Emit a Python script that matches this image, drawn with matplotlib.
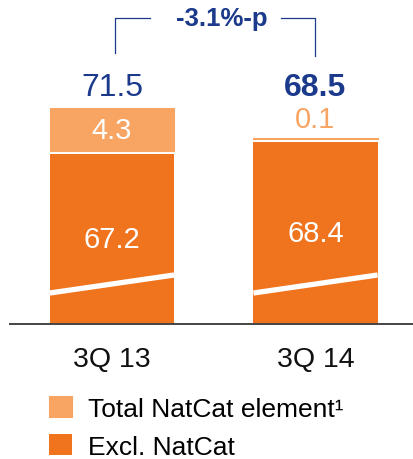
import matplotlib
matplotlib.use("Agg")
import matplotlib.pyplot as plt
import matplotlib.transforms as mtransforms
import numpy as np

plt.rcParams['font.family'] = ['Liberation Sans', 'DejaVu Sans']

# Combined ratio components (%)
quarters = ["3Q 13", "3Q 14"]
excl_natcat = [67.2, 68.4]
natcat = [4.3, 0.1]
totals = [71.5, 68.5]
change_label = "-3.1%-p"
legend_labels = ["Total NatCat element\u00b9", "Excl. NatCat"]

DARK = "#F0731E"
LIGHT = "#F8A564"
NAVY = "#1C3A8C"

fig = plt.figure(figsize=(4.14, 4.6), dpi=100)
ax = fig.add_axes([10 / 414, 135 / 460, 404 / 414, 325 / 460])

x = np.arange(len(quarters))
width = 0.61
y_break = 50.2          # axis is broken: bars start above zero
gap = 0.3               # white separation between stacked segments

bars_dark = ax.bar(x, excl_natcat, width, color=DARK, linewidth=0,
                   label=legend_labels[1])
bars_light = ax.bar(x, natcat, width, bottom=np.array(excl_natcat) + gap,
                    color=LIGHT, edgecolor=LIGHT, linewidth=0.8,
                    label=legend_labels[0])

ax.set_xlim(-0.501, 1.484)
ax.set_ylim(y_break, y_break + 32.5)

# White diagonal cut marking the broken axis
for xi in x:
    ax.plot([xi - width / 2, xi + width / 2], [53.3, 55.1], color="white",
            lw=3.8, solid_capstyle="butt", zorder=3)

# Segment labels
for xi, v in zip(x, excl_natcat):
    ax.text(xi, (y_break + v) / 2, f"{v:.1f}", ha="center", va="center",
            color="white", fontsize=21, zorder=4)
for xi, v, b in zip(x, natcat, excl_natcat):
    if v >= 1:
        ax.text(xi, b + gap + v / 2 - 0.1, f"{v:.1f}", ha="center", va="center",
                color="white", fontsize=21, zorder=4)
    else:
        ax.text(xi, b + gap + v + 0.5, f"{v:.1f}", ha="center", va="bottom",
                color=LIGHT, fontsize=21, zorder=4)

# Totals above the bars
trans = mtransforms.blended_transform_factory(ax.transData, ax.transAxes)
for i, (xi, t) in enumerate(zip(x, totals)):
    ax.text(xi, 0.728, f"{t:.1f}", transform=trans, ha="center", va="center",
            color=NAVY, fontsize=23, fontweight="bold" if i == 1 else "normal")

# Change bracket between the two totals
y_top, y_low_l, y_low_r = 0.9415, 0.834, 0.825
mid = (x[0] + x[1]) / 2
ax.plot([x[0] + 0.015, x[0] + 0.015, 0.187], [y_low_l, y_top, y_top],
        transform=trans, color=NAVY, lw=0.9, clip_on=False)
ax.plot([0.830, x[1], x[1]], [y_top, y_top, y_low_r], transform=trans,
        color=NAVY, lw=0.9, clip_on=False)
ax.text(mid + 0.04, y_top, change_label, transform=trans, ha="center",
        va="center", color=NAVY, fontsize=18.5, fontweight="bold")

# Axes styling
for s in ["top", "right", "left"]:
    ax.spines[s].set_visible(False)
ax.spines["bottom"].set_color("#444444")
ax.spines["bottom"].set_linewidth(1.4)
ax.set_yticks([])
ax.set_xticks(x)
ax.set_xticklabels(quarters, fontsize=20.5, color="#111111")
ax.tick_params(axis="x", length=0, pad=16)

fig.legend(handles=[bars_light, bars_dark], labels=legend_labels,
           loc="upper left", bbox_to_anchor=(49 / 414, (460 - 397) / 460),
           frameon=False, fontsize=19, handlelength=0.87, handleheight=0.87,
           handletextpad=0.6, labelspacing=0.5, borderpad=0,
           borderaxespad=0)

fig.savefig("out.png", dpi=100)
